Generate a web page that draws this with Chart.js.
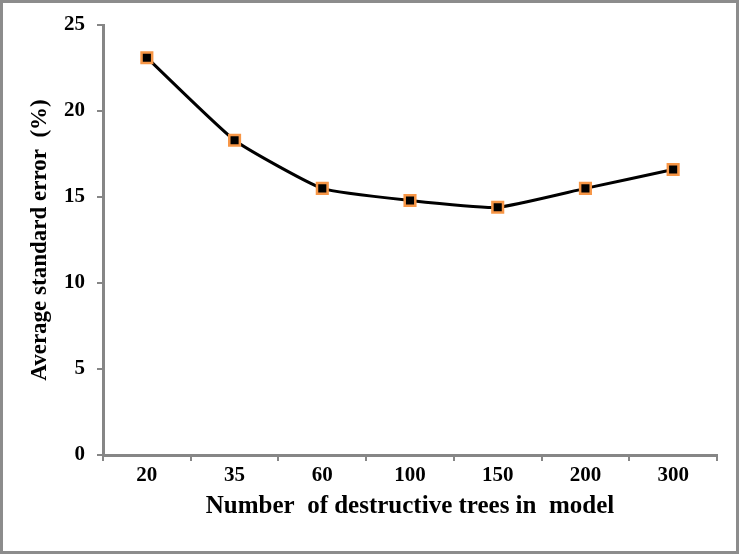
<!DOCTYPE html>
<html>
<head>
<meta charset="utf-8">
<script src="https://cdn.jsdelivr.net/npm/chart.js@4/dist/chart.umd.min.js"></script>
<style>
  body { margin: 0; background: #fff; }
  #wrap { width: 739px; height: 554px; }
</style>
</head>
<body>
<div id="wrap"><canvas id="grafico" width="739" height="554"></canvas></div>
<script>
// datos
const categorias = ['20', '35', '60', '100', '150', '200', '300'];
const errorMedio = [23.1, 18.3, 15.5, 14.8, 14.4, 15.5, 16.6];
const ticksY = [0, 5, 10, 15, 20, 25];

const gris = '#868686';
const fuente = 'Liberation Serif, "Times New Roman", serif';

// marco gris alrededor de la imagen
const marco = {
  id: 'marco',
  beforeDraw(chart) {
    const c = chart.ctx;
    c.save();
    c.fillStyle = '#fff';
    c.fillRect(0, 0, chart.width, chart.height);
    c.strokeStyle = '#8c8c8c';
    c.lineWidth = 3;
    c.strokeRect(1.5, 1.5, chart.width - 3, chart.height - 3);
    c.restore();
  }
};

const ctx = document.getElementById('grafico').getContext('2d');
new Chart(ctx, {
  type: 'line',
  data: {
    labels: categorias,
    datasets: [{
      label: 'Average standard error (%)',
      data: errorMedio,
      borderColor: '#000',
      borderWidth: 3,
      tension: 0.15,
      pointStyle: 'rect',
      pointRadius: 7.5,
      pointBorderWidth: 2.5,
      pointBackgroundColor: '#000',
      pointBorderColor: '#F79646'
    }]
  },
  options: {
    responsive: false,
    animation: false,
    layout: { padding: { top: 25, right: 22, left: 0, bottom: 0 } },
    plugins: { legend: { display: false }, tooltip: { enabled: false } },
    scales: {
      x: {
        type: 'category',
        offset: true,
        grid: { offset: true, drawOnChartArea: false, tickLength: 6, color: gris, lineWidth: 2 },
        border: { color: gris, width: 3 },
        ticks: { color: '#000', padding: 2, font: { family: fuente, size: 21, weight: 'bold' } },
        title: {
          display: true,
          text: 'Number  of destructive trees in  model',
          color: '#000',
          padding: { top: 0, bottom: 32 },
          font: { family: fuente, size: 25, weight: 'bold' }
        },
        afterFit(scale) { scale.height = 99; }
      },
      y: {
        min: 0,
        max: 25,
        afterBuildTicks(scale) { scale.ticks = ticksY.map(v => ({ value: v })); },
        grid: { drawOnChartArea: false, tickLength: 6, color: gris, lineWidth: 2 },
        border: { color: gris, width: 3 },
        ticks: { color: '#000', padding: 12, font: { family: fuente, size: 21, weight: 'bold' } },
        title: {
          display: true,
          text: 'Average standard error  (%)',
          color: '#000',
          padding: { top: 26, bottom: 0 },
          font: { family: fuente, size: 23, weight: 'bold' }
        },
        afterFit(scale) { scale.width = 103; }
      }
    }
  },
  plugins: [marco]
});
</script>
</body>
</html>
